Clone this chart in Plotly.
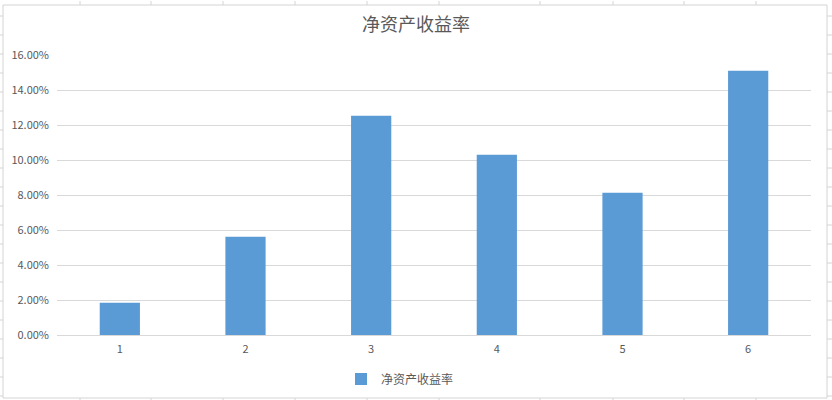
import plotly.graph_objects as go

# data
categories = ["1", "2", "3", "4", "5", "6"]
roe = [0.0185, 0.0562, 0.1253, 0.1030, 0.0813, 0.1510]
series_name = "净资产收益率"
y_ticks = [0.00, 0.02, 0.04, 0.06, 0.08, 0.10, 0.12, 0.14, 0.16]

# the capture comes out ~1.2% squashed vertically, so lay out on a
# slightly taller canvas and give all vertical positions in reference pixels
S = 405 / 400
W, H = 832, round(400 * S)
L, R = 57, 811
T, B = 54 * S, 334 * S  # plot area


def px(x):
    return (x - L) / (R - L)


def py(y):
    return (B - y * S) / (B - T)


fig = go.Figure()
fig.add_trace(go.Bar(
    x=categories, y=roe, name=series_name,
    marker_color="#5b9bd5", marker_line_width=0,
))

# chart frame + the sheet's cell gridlines peeking out around it
grid = "#d4d4d4"
shapes = [dict(type="rect", xref="paper", yref="paper",
               x0=px(3), x1=px(827), y0=py(4), y1=py(397),
               line=dict(color=grid, width=1), layer="below")]
cols = [80, 151, 223, 295, 367, 439, 540, 613, 684, 756]
for c in cols:
    shapes.append(dict(type="line", xref="paper", yref="paper",
                       x0=px(c), x1=px(c), y0=py(0), y1=py(4),
                       line=dict(color=grid, width=1)))
    shapes.append(dict(type="line", xref="paper", yref="paper",
                       x0=px(c), x1=px(c), y0=py(397), y1=py(400),
                       line=dict(color=grid, width=1)))
for r in range(15, 397, 19):
    shapes.append(dict(type="line", xref="paper", yref="paper",
                       x0=px(0), x1=px(3), y0=py(r), y1=py(r),
                       line=dict(color=grid, width=1)))
    shapes.append(dict(type="line", xref="paper", yref="paper",
                       x0=px(827), x1=px(832), y0=py(r), y1=py(r),
                       line=dict(color=grid, width=1)))

fig.update_layout(
    width=W, height=H,
    margin=dict(l=L, r=W - R, t=T, b=H - B),
    paper_bgcolor="white", plot_bgcolor="white",
    font=dict(family="Noto Sans CJK SC, Noto Sans, sans-serif",
              size=11, color="#595959"),
    title=dict(text=series_name, x=0.5, xanchor="center",
               y=1 - 24 * S / H, yanchor="middle",
               font=dict(size=18, color="#595959")),
    bargap=0.68,
    showlegend=True,
    legend=dict(orientation="h", x=px(341), xanchor="left",
                y=py(378), yanchor="middle", font=dict(size=12),
                itemwidth=30),
    shapes=shapes,
)
fig.update_xaxes(showgrid=False, showline=True, linecolor="#d9d9d9",
                 ticks="", tickfont=dict(size=11), ticklabelstandoff=4)
fig.update_yaxes(range=[0, 0.16], tickvals=y_ticks, tickformat=".2%",
                 showgrid=True, gridcolor="#d9d9d9", zeroline=False,
                 showline=False, ticks="", ticklen=0, tickfont=dict(size=11),
                 ticklabelstandoff=7)

# no body margin, so the figure sits at the window's top-left corner
page_fix = (
    "document.body.style.margin='0';"
    "document.body.style.overflow='hidden';"
    "document.documentElement.style.overflow='hidden';"
)
fig.write_html("out.html", config={"displayModeBar": False},
               post_script=page_fix)
